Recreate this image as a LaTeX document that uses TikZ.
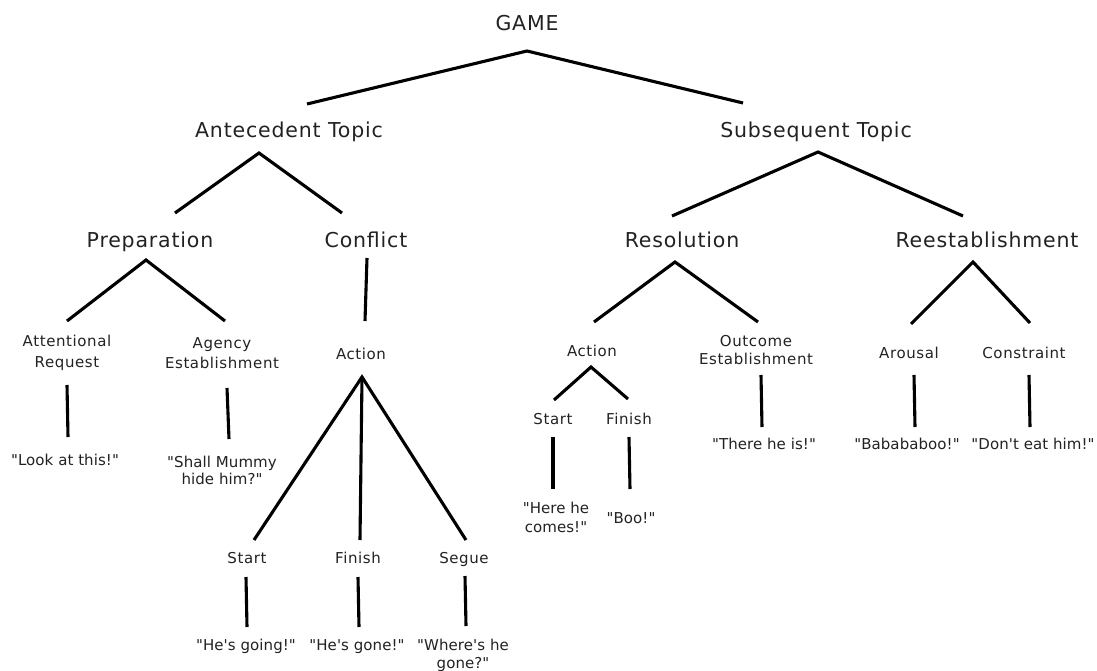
\documentclass[tikz,border=0pt]{standalone}
\usepackage{fontspec}
\setmainfont{DejaVu Sans}[Ligatures=TeXOff,LetterSpace=4]
\definecolor{txt}{HTML}{222222}
\newcommand\bigfnt{\fontsize{20.5}{24}\selectfont}
\newcommand\smfnt{\fontsize{15}{20}\selectfont}
\newcommand\qtfnt{\fontsize{15}{20}\selectfont\addfontfeature{LetterSpace=0.5}}
\newcommand\twolines[3]{{\fontsize{15}{#3}\selectfont\begin{tabular}[t]{@{}c@{}}#1\\#2\end{tabular}}}
\begin{document}
\begin{tikzpicture}[x=1pt,y=-1pt,
  big/.style={anchor=base,inner sep=0pt,font=\bigfnt,text=txt},
  sm/.style={anchor=base,inner sep=0pt,font=\smfnt,text=txt},
  qt/.style={anchor=base,inner sep=0pt,font=\qtfnt,text=txt},
  conn/.style={line width=3.1pt,black}]
\useasboundingbox (0,0) rectangle (1097,671);
% level 0-2
\node[big] (game) at (527,31) {GAME};
\node[big] (ant) at (289,138) {Antecedent Topic};
\node[big] (sub) at (816,138) {Subsequent Topic};
\node[big] (prep) at (150,247) {Preparation};
\node[big] (conf) at (366,247) {Conflict};
\node[big] (res) at (682,247) {Resolution};
\node[big] (ree) at (987,247) {Reestablishment};
% level 3
\node[sm] (att) at (67,346.5) {\twolines{Attentional}{Request}{21}};
\node[sm] (agc) at (222,348.5) {\twolines{Agency}{Establishment}{20}};
\node[sm] (act1) at (361,359.5) {Action};
\node[sm] (act2) at (592,356) {Action};
\node[sm] (out) at (756,346) {\twolines{Outcome}{Establishment}{18}};
\node[sm] (aro) at (909,358.5) {Arousal};
\node[sm] (con) at (1024,358.5) {Constraint};
% level 4
\node[sm] (st2) at (553,424.5) {Start};
\node[sm] (fi2) at (629,424.5) {Finish};
\node[sm] (st1) at (247,563.5) {Start};
\node[sm] (fi1) at (358,563.5) {Finish};
\node[sm] (seg) at (464,563.5) {Segue};
% quotes
\node[qt] (q1) at (65,465.5) {"Look at this!"};
\node[qt] (q2) at (222,467.5) {\twolines{"Shall Mummy}{hide him?"}{17}};
\node[qt] (q3) at (764,449.5) {"There he is!"};
\node[qt] (q4) at (907,449.5) {"Babababoo!"};
\node[qt] (q5) at (1033,449.5) {"Don't eat him!"};
\node[qt] (q6) at (556,513.5) {\twolines{"Here he}{comes!"}{19}};
\node[qt] (q7) at (631,523.5) {"Boo!"};
\node[qt] (q8) at (246,650.5) {"He's going!"};
\node[qt] (q9) at (357,650.5) {"He's gone!"};
\node[qt] (q10) at (463,650.5) {\twolines{"Where's he}{gone?"}{18}};
% connector points
\coordinate (game-a) at (527,51);
\coordinate (game-l) at (307,104);
\coordinate (game-r) at (743,103);
\coordinate (ant-a) at (259,153);
\coordinate (ant-l) at (175,213);
\coordinate (ant-r) at (342,213);
\coordinate (sub-a) at (818,152);
\coordinate (sub-l) at (672,216);
\coordinate (sub-r) at (963,216);
\coordinate (prep-a) at (146,260);
\coordinate (prep-l) at (67,321);
\coordinate (prep-r) at (225,321);
\coordinate (conf-t) at (367,258);
\coordinate (conf-b) at (365,321);
\coordinate (res-a) at (675,262);
\coordinate (res-l) at (594,322);
\coordinate (res-r) at (758,322);
\coordinate (ree-a) at (973,262);
\coordinate (ree-l) at (911,324);
\coordinate (ree-r) at (1030,323);
\coordinate (att-t) at (67,385);
\coordinate (att-b) at (68,437);
\coordinate (agc-t) at (227,388);
\coordinate (agc-b) at (229,439);
\coordinate (act1-a) at (362,377);
\coordinate (act1-l) at (254,540);
\coordinate (act1-m) at (360,540);
\coordinate (act1-r) at (466,540);
\coordinate (st1-t) at (246,577);
\coordinate (st1-b) at (247,627);
\coordinate (fi1-t) at (358,577);
\coordinate (fi1-b) at (359,627);
\coordinate (seg-t) at (465,576);
\coordinate (seg-b) at (466,626);
\coordinate (act2-a) at (591,367);
\coordinate (act2-l) at (554,400);
\coordinate (act2-r) at (628,399);
\coordinate (st2-t) at (553,437);
\coordinate (st2-b) at (553,489);
\coordinate (fi2-t) at (629,437);
\coordinate (fi2-b) at (630,489);
\coordinate (out-t) at (761,375);
\coordinate (out-b) at (762,427);
\coordinate (aro-t) at (914,375);
\coordinate (aro-b) at (915,427);
\coordinate (con-t) at (1029,375);
\coordinate (con-b) at (1030,427);
% connectors
\draw[conn] (game-l) -- (game-a) -- (game-r);
\draw[conn] (ant-l) -- (ant-a) -- (ant-r);
\draw[conn] (sub-l) -- (sub-a) -- (sub-r);
\draw[conn] (prep-l) -- (prep-a) -- (prep-r);
\draw[conn] (conf-t) -- (conf-b);
\draw[conn] (res-l) -- (res-a) -- (res-r);
\draw[conn] (ree-l) -- (ree-a) -- (ree-r);
\draw[conn] (att-t) -- (att-b);
\draw[conn] (agc-t) -- (agc-b);
\draw[conn] (act1-l) -- (act1-a) -- (act1-r);
\draw[conn] (act1-a) -- (act1-m);
\draw[conn] (st1-t) -- (st1-b);
\draw[conn] (fi1-t) -- (fi1-b);
\draw[conn] (seg-t) -- (seg-b);
\draw[conn] (act2-l) -- (act2-a) -- (act2-r);
\draw[conn] (st2-t) -- (st2-b);
\draw[conn] (fi2-t) -- (fi2-b);
\draw[conn] (out-t) -- (out-b);
\draw[conn] (aro-t) -- (aro-b);
\draw[conn] (con-t) -- (con-b);
\end{tikzpicture}
\end{document}
